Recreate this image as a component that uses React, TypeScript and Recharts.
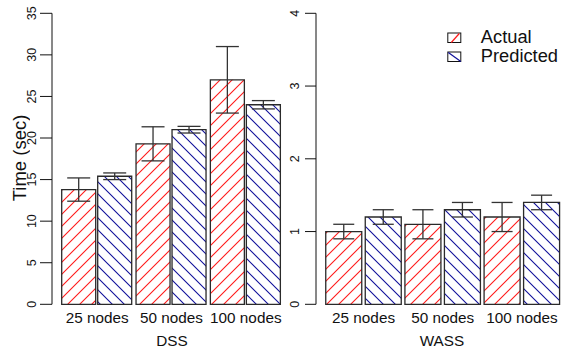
import { Bar, BarChart, ErrorBar, XAxis, YAxis } from "recharts";

const categories = ["25 nodes", "50 nodes", "100 nodes"];

const dssActual = [13.8, 19.3, 27.0];
const dssActualErr = [1.4, 2.05, 4.0];
const dssPredicted = [15.4, 21.0, 24.0];
const dssPredictedErr = [0.4, 0.4, 0.5];

const wassActual = [1.0, 1.1, 1.2];
const wassActualErr = [0.1, 0.2, 0.2];
const wassPredicted = [1.2, 1.3, 1.4];
const wassPredictedErr = [0.1, 0.1, 0.1];

const dssTicks = [0, 5, 10, 15, 20, 25, 30, 35];
const wassTicks = [0, 1, 2, 3, 4];

const seriesNames = ["Actual", "Predicted"];

const FONT = '"Liberation Sans", Arial, Helvetica, sans-serif';
const RED = "#ff1a1a";
const BLUE = "#10109a";
const EDGE = "#2a2a2a";

function rows(actual: number[], actualErr: number[], predicted: number[], predictedErr: number[]) {
  return categories.map((name, i) => ({
    name,
    actual: actual[i],
    actualErr: actualErr[i],
    predicted: predicted[i],
    predictedErr: predictedErr[i],
  }));
}

const dssData = rows(dssActual, dssActualErr, dssPredicted, dssPredictedErr);
const wassData = rows(wassActual, wassActualErr, wassPredicted, wassPredictedErr);

// shared hatch patterns (referenced by id from both charts)
function Patterns() {
  return (
    <svg width={0} height={0} style={{ position: "absolute" }}>
      <defs>
        <pattern id="hatchRed" patternUnits="userSpaceOnUse" width={12} height={12}>
          <path d="M0,12 L12,0 M-3,3 L3,-3 M9,15 L15,9" stroke={RED} strokeWidth={1.1} />
        </pattern>
        <pattern id="hatchBlue" patternUnits="userSpaceOnUse" width={12} height={12}>
          <path d="M0,0 L12,12 M-3,9 L3,15 M9,-3 L15,3" stroke={BLUE} strokeWidth={1.1} />
        </pattern>
      </defs>
    </svg>
  );
}

function yTick(baseX: number) {
  return (props: any) => {
    const { y, payload } = props;
    return (
      <text
        transform={`translate(${baseX},${y}) rotate(-90)`}
        textAnchor="middle"
        fontSize={12.5}
        fontFamily={FONT}
        fill="#111"
      >
        {payload.value}
      </text>
    );
  };
}

function xTick(props: any) {
  const { x, payload } = props;
  return (
    <text x={x} y={322.7} textAnchor="middle" fontSize={15.3} fontFamily={FONT} fill="#111">
      {payload.value}
    </text>
  );
}

// R-style legend: small hatched boxes + labels
function HatchLegend({ x, y }: { x: number; y: number }) {
  return (
    <g>
      {seriesNames.map((name, i) => {
        const top = y + i * 19;
        return (
          <g key={name}>
            <rect x={x + 0.5} y={top + 0.5} width={13} height={9.5} fill="white" stroke="#111" strokeWidth={1} />
            {i === 0 ? (
              <line x1={x + 4} y1={top + 10} x2={x + 12} y2={top + 1} stroke={RED} strokeWidth={1.2} />
            ) : (
              <line x1={x + 1} y1={top + 1} x2={x + 13.5} y2={top + 10} stroke={BLUE} strokeWidth={1.2} />
            )}
            <text x={x + 33.5} y={top + 10} fontSize={18.3} fontFamily={FONT} fill="#111">
              {name}
            </text>
          </g>
        );
      })}
    </g>
  );
}

function Panel({
  data,
  ticks,
  width,
  axisW,
  marginRight,
  catGap,
  barGap,
  errW,
  tickX,
  tickLen,
  title,
  titleX,
  showLegend,
}: any) {
  return (
    <BarChart
      width={width}
      height={347}
      data={data}
      margin={{ top: 13.3, right: marginRight, bottom: 0, left: 0 }}
      barCategoryGap={catGap}
      barGap={barGap}
    >
      <XAxis
        dataKey="name"
        height={42.7}
        padding={{ left: 8, right: 0 }}
        axisLine={false}
        tickLine={false}
        tick={xTick}
        interval={0}
      />
      <YAxis
        width={axisW}
        domain={[ticks[0], ticks[ticks.length - 1]]}
        ticks={ticks}
        interval={0}
        tickSize={tickLen}
        axisLine={{ stroke: "#111", strokeWidth: 1 }}
        tickLine={{ stroke: "#111", strokeWidth: 1 }}
        tick={yTick(tickX)}
      />
      <Bar dataKey="actual" name={seriesNames[0]} fill="url(#hatchRed)" stroke={EDGE} strokeWidth={1.3} isAnimationActive={false}>
        <ErrorBar dataKey="actualErr" width={errW} stroke="#333" strokeWidth={1.3} />
      </Bar>
      <Bar dataKey="predicted" name={seriesNames[1]} fill="url(#hatchBlue)" stroke={EDGE} strokeWidth={1.3} isAnimationActive={false}>
        <ErrorBar dataKey="predictedErr" width={errW} stroke="#333" strokeWidth={1.3} />
      </Bar>
      {showLegend && <HatchLegend x={164.3} y={32.5} />}
      <text x={titleX} y={345.5} textAnchor="middle" fontSize={15.3} fontFamily={FONT} fill="#111">
        {title}
      </text>
    </BarChart>
  );
}

export default function App() {
  return (
    <div style={{ position: "absolute", left: 0, top: 0, width: 563, height: 347, background: "white" }}>
      <Patterns />
      <div style={{ position: "absolute", left: 0, top: 0 }}>
        <Panel
          data={dssData}
          ticks={dssTicks}
          width={283}
          axisW={52}
          marginRight={0}
          catGap={1.7}
          barGap={2}
          errW={11.5}
          tickX={36}
          tickLen={12}
          title="DSS"
          titleX={172}
        />
        <svg width={30} height={120} style={{ position: "absolute", left: 0, top: 98 }}>
          <text
            transform="translate(25.5,60) rotate(-90)"
            textAnchor="middle"
            fontSize={18.5}
            fontFamily={FONT}
            fill="#111"
          >
            Time (sec)
          </text>
        </svg>
      </div>
      <div style={{ position: "absolute", left: 283, top: 0 }}>
        <Panel
          data={wassData}
          ticks={wassTicks}
          width={280}
          axisW={33}
          marginRight={1.5}
          catGap={1.75}
          barGap={3.5}
          errW={10.5}
          tickX={16}
          tickLen={11}
          title="WASS"
          titleX={159}
          showLegend
        />
      </div>
    </div>
  );
}
